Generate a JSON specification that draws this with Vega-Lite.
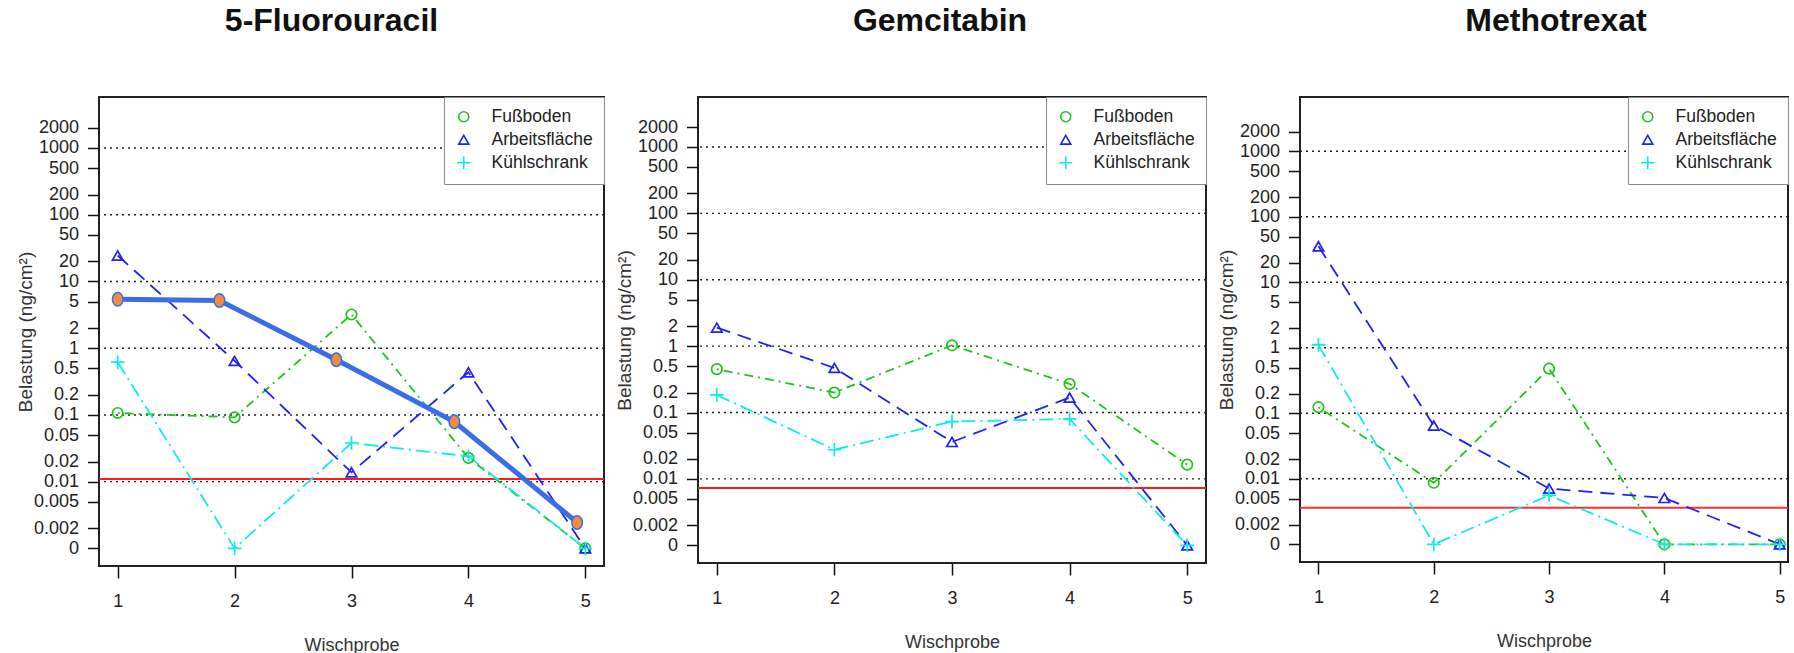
{
  "$schema": "https://vega.github.io/schema/vega-lite/v6.json",
  "autosize": {"type": "pad"},
  "padding": {"left": 15, "top": 3, "right": 0, "bottom": 0},
  "background": "white",
  "spacing": 8,
  "datasets": {
    "pts": [
      {"panel": "5-Fluorouracil", "series": "Fußboden", "x": 1, "y": 0.107},
      {"panel": "5-Fluorouracil", "series": "Fußboden", "x": 2, "y": 0.092},
      {"panel": "5-Fluorouracil", "series": "Fußboden", "x": 3, "y": 3.2},
      {"panel": "5-Fluorouracil", "series": "Fußboden", "x": 4, "y": 0.0227},
      {"panel": "5-Fluorouracil", "series": "Fußboden", "x": 5, "y": 0.001},
      {"panel": "5-Fluorouracil", "series": "Arbeitsfläche", "x": 1, "y": 24.5},
      {"panel": "5-Fluorouracil", "series": "Arbeitsfläche", "x": 2, "y": 0.645},
      {"panel": "5-Fluorouracil", "series": "Arbeitsfläche", "x": 3, "y": 0.0138},
      {"panel": "5-Fluorouracil", "series": "Arbeitsfläche", "x": 4, "y": 0.436},
      {"panel": "5-Fluorouracil", "series": "Arbeitsfläche", "x": 5, "y": 0.001},
      {"panel": "5-Fluorouracil", "series": "Kühlschrank", "x": 1, "y": 0.617},
      {"panel": "5-Fluorouracil", "series": "Kühlschrank", "x": 2, "y": 0.001},
      {"panel": "5-Fluorouracil", "series": "Kühlschrank", "x": 3, "y": 0.038},
      {"panel": "5-Fluorouracil", "series": "Kühlschrank", "x": 4, "y": 0.024},
      {"panel": "5-Fluorouracil", "series": "Kühlschrank", "x": 5, "y": 0.001},
      {"panel": "Gemcitabin", "series": "Fußboden", "x": 1, "y": 0.45},
      {"panel": "Gemcitabin", "series": "Fußboden", "x": 2, "y": 0.2},
      {"panel": "Gemcitabin", "series": "Fußboden", "x": 3, "y": 1.03},
      {"panel": "Gemcitabin", "series": "Fußboden", "x": 4, "y": 0.27},
      {"panel": "Gemcitabin", "series": "Fußboden", "x": 5, "y": 0.0164},
      {"panel": "Gemcitabin", "series": "Arbeitsfläche", "x": 1, "y": 1.9},
      {"panel": "Gemcitabin", "series": "Arbeitsfläche", "x": 2, "y": 0.47},
      {"panel": "Gemcitabin", "series": "Arbeitsfläche", "x": 3, "y": 0.036},
      {"panel": "Gemcitabin", "series": "Arbeitsfläche", "x": 4, "y": 0.168},
      {"panel": "Gemcitabin", "series": "Arbeitsfläche", "x": 5, "y": 0.001},
      {"panel": "Gemcitabin", "series": "Kühlschrank", "x": 1, "y": 0.184},
      {"panel": "Gemcitabin", "series": "Kühlschrank", "x": 2, "y": 0.0275},
      {"panel": "Gemcitabin", "series": "Kühlschrank", "x": 3, "y": 0.073},
      {"panel": "Gemcitabin", "series": "Kühlschrank", "x": 4, "y": 0.08},
      {"panel": "Gemcitabin", "series": "Kühlschrank", "x": 5, "y": 0.001},
      {"panel": "Methotrexat", "series": "Fußboden", "x": 1, "y": 0.124},
      {"panel": "Methotrexat", "series": "Fußboden", "x": 2, "y": 0.0087},
      {"panel": "Methotrexat", "series": "Fußboden", "x": 3, "y": 0.48},
      {"panel": "Methotrexat", "series": "Fußboden", "x": 4, "y": 0.001},
      {"panel": "Methotrexat", "series": "Fußboden", "x": 5, "y": 0.001},
      {"panel": "Methotrexat", "series": "Arbeitsfläche", "x": 1, "y": 35.5},
      {"panel": "Methotrexat", "series": "Arbeitsfläche", "x": 2, "y": 0.065},
      {"panel": "Methotrexat", "series": "Arbeitsfläche", "x": 3, "y": 0.0071},
      {"panel": "Methotrexat", "series": "Arbeitsfläche", "x": 4, "y": 0.0051},
      {"panel": "Methotrexat", "series": "Arbeitsfläche", "x": 5, "y": 0.001},
      {"panel": "Methotrexat", "series": "Kühlschrank", "x": 1, "y": 1.11},
      {"panel": "Methotrexat", "series": "Kühlschrank", "x": 2, "y": 0.001},
      {"panel": "Methotrexat", "series": "Kühlschrank", "x": 3, "y": 0.0056},
      {"panel": "Methotrexat", "series": "Kühlschrank", "x": 4, "y": 0.001},
      {"panel": "Methotrexat", "series": "Kühlschrank", "x": 5, "y": 0.001}
    ],
    "trend": [
      {"x": 1, "y": 5.4},
      {"x": 1.87, "y": 5.2},
      {"x": 2.87, "y": 0.67},
      {"x": 3.88, "y": 0.079},
      {"x": 4.93, "y": 0.00245}
    ],
    "grid": [{"y": 1000}, {"y": 100}, {"y": 10}, {"y": 1}, {"y": 0.1}, {"y": 0.01}],
    "red": [
      {"panel": "5-Fluorouracil", "y": 0.011},
      {"panel": "Gemcitabin", "y": 0.0073},
      {"panel": "Methotrexat", "y": 0.0036}
    ]
  },
  "resolve": {
    "scale": {"color": "independent", "shape": "independent"},
    "legend": {"color": "independent", "shape": "independent"}
  },
  "hconcat": [
    {
      "width": 505,
      "height": 469,
      "title": {"text": "5-Fluorouracil", "dx": -20},
      "layer": [
        {
          "data": {"name": "grid"},
          "mark": {"type": "rule", "color": "#222", "strokeDash": [2, 4], "strokeWidth": 1.4},
          "encoding": {
            "y": {"field": "y", "type": "quantitative",
              "scale": {"type": "log", "domain": [0.000545, 5808], "nice": false},
              "axis": {"values": [2000, 1000, 500, 200, 100, 50, 20, 10, 5, 2, 1, 0.5, 0.2, 0.1, 0.05, 0.02, 0.01, 0.005, 0.002, 0.001],
                "labelExpr": "datum.value < 0.0015 ? '0' : format(datum.value, '~g')",
                "title": "Belastung (ng/cm²)", "titleFontSize": 19, "titleX": -67.5, "titleBaseline": "alphabetic",
                "tickSize": 11.5, "labelPadding": 9, "labelOverlap": false, "labelBound": false}}
          }
        },
        {
          "data": {"name": "red"},
          "transform": [{"filter": "datum.panel === '5-Fluorouracil'"}],
          "mark": {"type": "rule", "color": "#ff1a1a", "strokeWidth": 2},
          "encoding": {"y": {"field": "y", "type": "quantitative", "scale": {"type": "log", "domain": [0.000545, 5808], "nice": false}}}
        },
        {
          "data": {"name": "pts"},
          "transform": [{"filter": "datum.panel === '5-Fluorouracil' && datum.series === 'Fußboden'"}],
          "mark": {"type": "line", "strokeWidth": 1.8, "color": "#1ec31e", "strokeDash": [2, 5, 9, 5]},
          "encoding": {
            "x": {"field": "x", "type": "quantitative", "scale": {"domain": [0.84, 5.16], "nice": false, "zero": false},
              "axis": {"values": [1, 2, 3, 4, 5], "format": "d", "title": "Wischprobe", "titleFontSize": 18, "titleY": 84, "titleBaseline": "alphabetic", "tickSize": 12, "labelPadding": 14, "labelFlush": false, "labelOverlap": false}},
            "y": {"field": "y", "type": "quantitative", "scale": {"type": "log", "domain": [0.000545, 5808], "nice": false}}
          }
        },
        {
          "data": {"name": "pts"},
          "transform": [{"filter": "datum.panel === '5-Fluorouracil' && datum.series === 'Arbeitsfläche'"}],
          "mark": {"type": "line", "strokeWidth": 1.8, "color": "#2222f0", "strokeDash": [14, 8]},
          "encoding": {
            "x": {"field": "x", "type": "quantitative", "scale": {"domain": [0.84, 5.16], "nice": false, "zero": false}},
            "y": {"field": "y", "type": "quantitative", "scale": {"type": "log", "domain": [0.000545, 5808], "nice": false}}
          }
        },
        {
          "data": {"name": "pts"},
          "transform": [{"filter": "datum.panel === '5-Fluorouracil' && datum.series === 'Kühlschrank'"}],
          "mark": {"type": "line", "strokeWidth": 1.8, "color": "#10eaea", "strokeDash": [14, 5, 2, 5]},
          "encoding": {
            "x": {"field": "x", "type": "quantitative", "scale": {"domain": [0.84, 5.16], "nice": false, "zero": false}},
            "y": {"field": "y", "type": "quantitative", "scale": {"type": "log", "domain": [0.000545, 5808], "nice": false}}
          }
        },
        {
          "data": {"name": "pts"},
          "transform": [{"filter": "datum.panel === '5-Fluorouracil'"}],
          "mark": {"type": "point", "filled": false, "strokeWidth": 1.7, "size": 110, "opacity": 1},
          "encoding": {
            "x": {"field": "x", "type": "quantitative", "scale": {"domain": [0.84, 5.16], "nice": false, "zero": false}},
            "y": {"field": "y", "type": "quantitative", "scale": {"type": "log", "domain": [0.000545, 5808], "nice": false}},
            "color": {"field": "series", "type": "nominal",
              "scale": {"domain": ["Fußboden", "Arbeitsfläche", "Kühlschrank"], "range": ["#1ec31e", "#2222f0", "#10eaea"]},
              "legend": {"orient": "top-right", "offset": 0, "title": null}},
            "shape": {"field": "series", "type": "nominal",
              "scale": {"domain": ["Fußboden", "Arbeitsfläche", "Kühlschrank"], "range": ["circle", "triangle-up", "M-1.3,0H1.3M0,-1.3V1.3"]},
              "legend": {"orient": "top-right", "offset": 0, "title": null}}
          }
        },
        {
          "data": {"name": "trend"},
          "mark": {"type": "line", "color": "#3a6ee8", "strokeWidth": 5},
          "encoding": {
            "x": {"field": "x", "type": "quantitative", "scale": {"domain": [0.84, 5.16], "nice": false, "zero": false}},
            "y": {"field": "y", "type": "quantitative", "scale": {"type": "log", "domain": [0.000545, 5808], "nice": false}}
          }
        },
        {
          "data": {"name": "trend"},
          "mark": {"type": "point", "filled": true, "fill": "#f28c38", "stroke": "#3a6ee8", "strokeWidth": 1.5, "opacity": 1, "size": 182,
            "shape": "M0,-1C0.431,-1,0.78,-0.552,0.78,0C0.78,0.552,0.431,1,0,1C-0.431,1,-0.78,0.552,-0.78,0C-0.78,-0.552,-0.431,-1,0,-1Z"},
          "encoding": {
            "x": {"field": "x", "type": "quantitative", "scale": {"domain": [0.84, 5.16], "nice": false, "zero": false}},
            "y": {"field": "y", "type": "quantitative", "scale": {"type": "log", "domain": [0.000545, 5808], "nice": false}}
          }
        }
      ]
    },
    {
      "width": 508,
      "height": 466,
      "title": {"text": "Gemcitabin", "dx": -12},
      "layer": [
        {
          "data": {"name": "grid"},
          "mark": {"type": "rule", "color": "#222", "strokeDash": [2, 4], "strokeWidth": 1.4},
          "encoding": {
            "y": {"field": "y", "type": "quantitative",
              "scale": {"type": "log", "domain": [0.000541, 5662], "nice": false},
              "axis": {"values": [2000, 1000, 500, 200, 100, 50, 20, 10, 5, 2, 1, 0.5, 0.2, 0.1, 0.05, 0.02, 0.01, 0.005, 0.002, 0.001],
                "labelExpr": "datum.value < 0.0015 ? '0' : format(datum.value, '~g')",
                "title": "Belastung (ng/cm²)", "titleFontSize": 19, "titleX": -67.5, "titleBaseline": "alphabetic",
                "tickSize": 11.5, "labelPadding": 9, "labelOverlap": false, "labelBound": false}}
          }
        },
        {
          "data": {"name": "red"},
          "transform": [{"filter": "datum.panel === 'Gemcitabin'"}],
          "mark": {"type": "rule", "color": "#ff1a1a", "strokeWidth": 2},
          "encoding": {"y": {"field": "y", "type": "quantitative", "scale": {"type": "log", "domain": [0.000541, 5662], "nice": false}}}
        },
        {
          "data": {"name": "pts"},
          "transform": [{"filter": "datum.panel === 'Gemcitabin' && datum.series === 'Fußboden'"}],
          "mark": {"type": "line", "strokeWidth": 1.8, "color": "#1ec31e", "strokeDash": [2, 5, 9, 5]},
          "encoding": {
            "x": {"field": "x", "type": "quantitative", "scale": {"domain": [0.84, 5.16], "nice": false, "zero": false},
              "axis": {"values": [1, 2, 3, 4, 5], "format": "d", "title": "Wischprobe", "titleFontSize": 18, "titleY": 84, "titleBaseline": "alphabetic", "tickSize": 12, "labelPadding": 14, "labelFlush": false, "labelOverlap": false}},
            "y": {"field": "y", "type": "quantitative", "scale": {"type": "log", "domain": [0.000541, 5662], "nice": false}}
          }
        },
        {
          "data": {"name": "pts"},
          "transform": [{"filter": "datum.panel === 'Gemcitabin' && datum.series === 'Arbeitsfläche'"}],
          "mark": {"type": "line", "strokeWidth": 1.8, "color": "#2222f0", "strokeDash": [14, 8]},
          "encoding": {
            "x": {"field": "x", "type": "quantitative", "scale": {"domain": [0.84, 5.16], "nice": false, "zero": false}},
            "y": {"field": "y", "type": "quantitative", "scale": {"type": "log", "domain": [0.000541, 5662], "nice": false}}
          }
        },
        {
          "data": {"name": "pts"},
          "transform": [{"filter": "datum.panel === 'Gemcitabin' && datum.series === 'Kühlschrank'"}],
          "mark": {"type": "line", "strokeWidth": 1.8, "color": "#10eaea", "strokeDash": [14, 5, 2, 5]},
          "encoding": {
            "x": {"field": "x", "type": "quantitative", "scale": {"domain": [0.84, 5.16], "nice": false, "zero": false}},
            "y": {"field": "y", "type": "quantitative", "scale": {"type": "log", "domain": [0.000541, 5662], "nice": false}}
          }
        },
        {
          "data": {"name": "pts"},
          "transform": [{"filter": "datum.panel === 'Gemcitabin'"}],
          "mark": {"type": "point", "filled": false, "strokeWidth": 1.7, "size": 110, "opacity": 1},
          "encoding": {
            "x": {"field": "x", "type": "quantitative", "scale": {"domain": [0.84, 5.16], "nice": false, "zero": false}},
            "y": {"field": "y", "type": "quantitative", "scale": {"type": "log", "domain": [0.000541, 5662], "nice": false}},
            "color": {"field": "series", "type": "nominal",
              "scale": {"domain": ["Fußboden", "Arbeitsfläche", "Kühlschrank"], "range": ["#1ec31e", "#2222f0", "#10eaea"]},
              "legend": {"orient": "top-right", "offset": 0, "title": null}},
            "shape": {"field": "series", "type": "nominal",
              "scale": {"domain": ["Fußboden", "Arbeitsfläche", "Kühlschrank"], "range": ["circle", "triangle-up", "M-1.3,0H1.3M0,-1.3V1.3"]},
              "legend": {"orient": "top-right", "offset": 0, "title": null}}
          }
        }
      ]
    },
    {
      "width": 488,
      "height": 465,
      "title": {"text": "Methotrexat", "dx": 12},
      "layer": [
        {
          "data": {"name": "grid"},
          "mark": {"type": "rule", "color": "#222", "strokeDash": [2, 4], "strokeWidth": 1.4},
          "encoding": {
            "y": {"field": "y", "type": "quantitative",
              "scale": {"type": "log", "domain": [0.000537, 6745], "nice": false},
              "axis": {"values": [2000, 1000, 500, 200, 100, 50, 20, 10, 5, 2, 1, 0.5, 0.2, 0.1, 0.05, 0.02, 0.01, 0.005, 0.002, 0.001],
                "labelExpr": "datum.value < 0.0015 ? '0' : format(datum.value, '~g')",
                "title": "Belastung (ng/cm²)", "titleFontSize": 19, "titleX": -67.5, "titleBaseline": "alphabetic",
                "tickSize": 11.5, "labelPadding": 9, "labelOverlap": false, "labelBound": false}}
          }
        },
        {
          "data": {"name": "red"},
          "transform": [{"filter": "datum.panel === 'Methotrexat'"}],
          "mark": {"type": "rule", "color": "#ff3030", "strokeWidth": 2},
          "encoding": {"y": {"field": "y", "type": "quantitative", "scale": {"type": "log", "domain": [0.000537, 6745], "nice": false}}}
        },
        {
          "data": {"name": "pts"},
          "transform": [{"filter": "datum.panel === 'Methotrexat' && datum.series === 'Fußboden'"}],
          "mark": {"type": "line", "strokeWidth": 1.8, "color": "#1ec31e", "strokeDash": [2, 5, 9, 5]},
          "encoding": {
            "x": {"field": "x", "type": "quantitative", "scale": {"domain": [0.84, 5.072], "nice": false, "zero": false},
              "axis": {"values": [1, 2, 3, 4, 5], "format": "d", "title": "Wischprobe", "titleFontSize": 18, "titleY": 84, "titleBaseline": "alphabetic", "tickSize": 12, "labelPadding": 14, "labelFlush": false, "labelOverlap": false}},
            "y": {"field": "y", "type": "quantitative", "scale": {"type": "log", "domain": [0.000537, 6745], "nice": false}}
          }
        },
        {
          "data": {"name": "pts"},
          "transform": [{"filter": "datum.panel === 'Methotrexat' && datum.series === 'Arbeitsfläche'"}],
          "mark": {"type": "line", "strokeWidth": 1.8, "color": "#2222f0", "strokeDash": [14, 8]},
          "encoding": {
            "x": {"field": "x", "type": "quantitative", "scale": {"domain": [0.84, 5.072], "nice": false, "zero": false}},
            "y": {"field": "y", "type": "quantitative", "scale": {"type": "log", "domain": [0.000537, 6745], "nice": false}}
          }
        },
        {
          "data": {"name": "pts"},
          "transform": [{"filter": "datum.panel === 'Methotrexat' && datum.series === 'Kühlschrank'"}],
          "mark": {"type": "line", "strokeWidth": 1.8, "color": "#10eaea", "strokeDash": [14, 5, 2, 5]},
          "encoding": {
            "x": {"field": "x", "type": "quantitative", "scale": {"domain": [0.84, 5.072], "nice": false, "zero": false}},
            "y": {"field": "y", "type": "quantitative", "scale": {"type": "log", "domain": [0.000537, 6745], "nice": false}}
          }
        },
        {
          "data": {"name": "pts"},
          "transform": [{"filter": "datum.panel === 'Methotrexat'"}],
          "mark": {"type": "point", "filled": false, "strokeWidth": 1.7, "size": 110, "opacity": 1},
          "encoding": {
            "x": {"field": "x", "type": "quantitative", "scale": {"domain": [0.84, 5.072], "nice": false, "zero": false}},
            "y": {"field": "y", "type": "quantitative", "scale": {"type": "log", "domain": [0.000537, 6745], "nice": false}},
            "color": {"field": "series", "type": "nominal",
              "scale": {"domain": ["Fußboden", "Arbeitsfläche", "Kühlschrank"], "range": ["#1ec31e", "#2222f0", "#10eaea"]},
              "legend": {"orient": "top-right", "offset": 0, "title": null}},
            "shape": {"field": "series", "type": "nominal",
              "scale": {"domain": ["Fußboden", "Arbeitsfläche", "Kühlschrank"], "range": ["circle", "triangle-up", "M-1.3,0H1.3M0,-1.3V1.3"]},
              "legend": {"orient": "top-right", "offset": 0, "title": null}}
          }
        }
      ]
    }
  ],
  "config": {
    "font": "Liberation Sans",
    "view": {"stroke": "#222", "strokeWidth": 2},
    "axis": {"domain": false, "grid": false, "tickColor": "#111", "tickWidth": 1.5, "labelFont": "Liberation Sans", "labelFontSize": 18, "labelColor": "#222", "titleFont": "Liberation Sans", "titleFontWeight": "normal", "titleColor": "#333"},
    "legend": {"labelFont": "Liberation Sans", "labelFontSize": 17.5, "labelColor": "#222", "padding": 11, "labelOffset": 19, "rowPadding": 4, "symbolSize": 100, "symbolStrokeWidth": 1.6, "strokeColor": "#8a8a8a", "fillColor": "white", "cornerRadius": 0},
    "title": {"font": "Liberation Sans", "fontSize": 32, "fontWeight": "bold", "color": "#111", "baseline": "alphabetic", "offset": 59, "frame": "group", "anchor": "middle"}
  }
}
